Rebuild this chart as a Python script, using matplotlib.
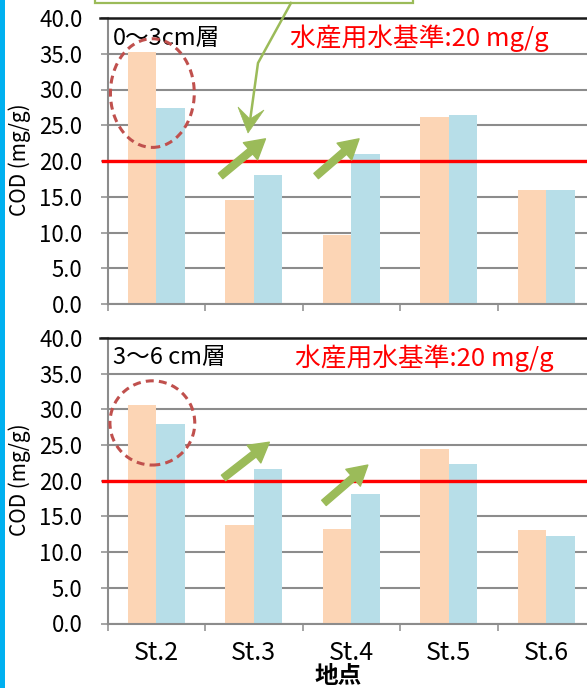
import matplotlib
matplotlib.use("Agg")
import matplotlib.pyplot as plt
from matplotlib.patches import Ellipse, Rectangle, FancyArrowPatch, Polygon
from matplotlib.lines import Line2D
from matplotlib.transforms import Affine2D
import numpy as np

plt.rcParams['font.family'] = ['Noto Sans CJK JP', 'DejaVu Sans']

# ---- data -------------------------------------------------------------
stations = ['St.2', 'St.3', 'St.4', 'St.5', 'St.6']
layer_titles = ['0～3cm層', '3～6 cm層']
cod_0_3_before = [35.3, 14.6, 9.6, 26.2, 16.0]
cod_0_3_after = [27.4, 18.1, 21.0, 26.5, 16.0]
cod_3_6_before = [30.6, 13.8, 13.2, 24.5, 13.1]
cod_3_6_after = [27.9, 21.7, 18.1, 22.4, 12.2]
standard_value = 20
standard_text = '水産用水基準:20 mg/g'
y_ticks = [0, 5, 10, 15, 20, 25, 30, 35, 40]
y_label = 'COD (mg/g)'
x_label = '地点'

# ---- styling ----------------------------------------------------------
ORANGE = '#FCD5B5'
BLUE = '#B7DEE8'
GRID = '#8C8C8C'
GREEN = '#9BBB59'
CIRCLE = '#C0504D'

W, H = 587, 688
fig = plt.figure(figsize=(W / 100, H / 100), dpi=100)
pix = Affine2D().scale(1 / W, -1 / H).translate(0, 1) + fig.transFigure


def px_rect(left, top, right, bottom):
    return [left / W, 1 - bottom / H, (right - left) / W, (bottom - top) / H]


ax_top = fig.add_axes(px_rect(107.5, 18, 595, 304))
ax_bot = fig.add_axes(px_rect(107.5, 338, 595, 623.5))

x = np.arange(len(stations))
bw = 0.29

panels = [
    (ax_top, cod_0_3_before, cod_0_3_after, layer_titles[0], 0.374),
    (ax_bot, cod_3_6_before, cod_3_6_after, layer_titles[1], 0.385),
]

for ax, before, after, title, std_x in panels:
    ax.bar(x - bw / 2, before, bw, color=ORANGE, zorder=2)
    ax.bar(x + bw / 2, after, bw, color=BLUE, zorder=2)
    ax.set_xlim(-0.5, len(stations) - 0.5)
    ax.set_ylim(0, 40)
    ax.set_yticks(y_ticks)
    ax.set_yticklabels([f'{v:.1f}' for v in y_ticks])
    ax.yaxis.grid(True, color=GRID, lw=1.5, zorder=0)
    ax.set_axisbelow(True)
    for s in ['top', 'right']:
        ax.spines[s].set_visible(False)
    for s in ['left', 'bottom']:
        ax.spines[s].set_color(GRID)
        ax.spines[s].set_linewidth(1.5)
    ax.set_xticks(x)
    ax.set_xticks(np.arange(len(stations) + 1) - 0.5, minor=True)
    ax.tick_params(axis='y', direction='out', length=5, width=1.1,
                   color=GRID, pad=13, labelsize=16)
    ax.tick_params(axis='x', which='major', length=0, pad=12, labelsize=18)
    ax.tick_params(axis='x', which='minor', length=5, width=1.1, color=GRID)

    # frame line along the top of the plot area
    ax.axhline(40, xmin=-0.0154, xmax=1, color='#1A1A1A', lw=1.8,
               clip_on=False, zorder=4)
    # water-quality standard
    ax.axhline(standard_value, xmin=-0.009, xmax=1, color='#FF0000', lw=2.4,
               clip_on=False, zorder=5)

    ax.text(0.011, 0.93, title, transform=ax.transAxes, ha='left',
            va='center', fontsize=17, color='black')
    ax.text(std_x, 0.93, standard_text, transform=ax.transAxes, ha='left',
            va='center', fontsize=18.5, color='#FF0000')

ax_top.set_xticklabels([])
ax_bot.set_xticklabels(stations)

# dashed circles around St.2
ax_top.add_patch(Ellipse((-0.04, 29.5), 0.86, 15.2, fill=False, ec=CIRCLE,
                         lw=2.2, ls=(0, (2.6, 1.7)), zorder=6, clip_on=False))
ax_bot.add_patch(Ellipse((-0.04, 28.1), 0.87, 11.8, fill=False, ec=CIRCLE,
                         lw=2.2, ls=(0, (2.6, 1.7)), zorder=6, clip_on=False))

# green arrows showing the increase
arrow_style = 'simple,head_width=1.6,head_length=1.4,tail_width=0.5'
for ax, segs in [
    (ax_top, [((0.66, 17.9), (1.12, 23.1)), ((1.64, 17.9), (2.08, 23.1))]),
    (ax_bot, [((0.69, 20.4), (1.16, 25.4)), ((1.72, 16.9), (2.17, 22.2))]),
]:
    for a, b in segs:
        ax.add_patch(FancyArrowPatch(a, b, arrowstyle=arrow_style,
                                     mutation_scale=10, color=GREEN,
                                     shrinkA=0, shrinkB=0, zorder=7,
                                     clip_on=False))

# callout box with its leader line
fig.add_artist(Rectangle((95, -60), 318, 63, transform=pix, fc='white',
                         ec=GREEN, lw=1.6, clip_on=False))
fig.add_artist(Line2D([291, 258, 250], [3, 63, 121], transform=pix,
                      color=GREEN, lw=1.8))
fig.add_artist(Polygon([(248, 133), (238, 107), (250, 119), (264, 110)],
                       closed=True, transform=pix, fc=GREEN, ec=GREEN, lw=0.5))

# left accent strip
fig.add_artist(Rectangle((0, 0), 4.5, H, transform=pix, fc='#00B0F0',
                         ec='none'))

# axis titles
fig.text(20 / W, 1 - 160 / H, y_label, rotation=90, ha='center',
         va='center', fontsize=15)
fig.text(20 / W, 1 - 480 / H, y_label, rotation=90, ha='center',
         va='center', fontsize=15)
fig.text(338 / W, 1 - 688 / H, x_label, ha='center', va='bottom',
         fontsize=17, fontweight='bold')

fig.savefig('out.png', dpi=100)
